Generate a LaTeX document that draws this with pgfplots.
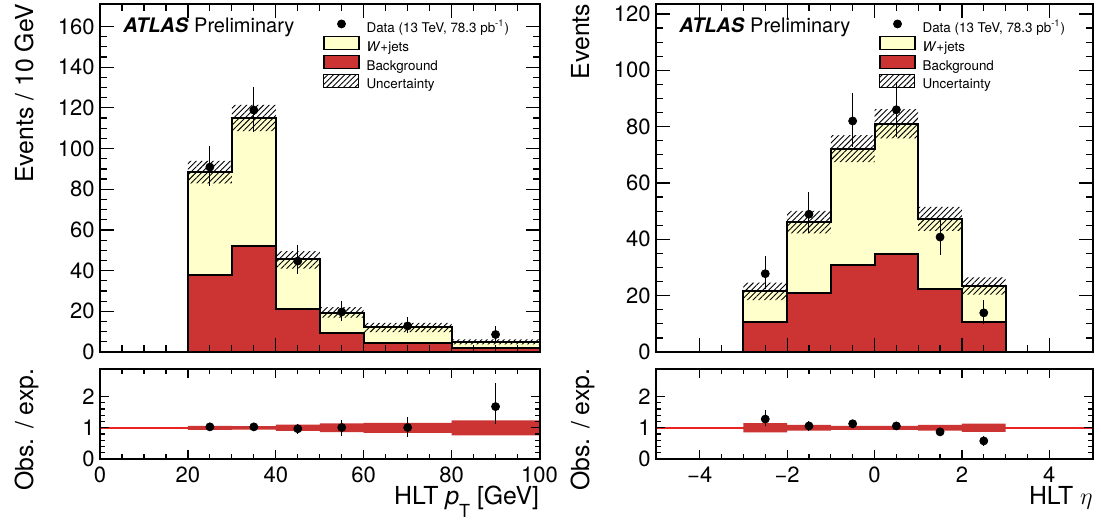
\documentclass[border=0pt]{standalone}
\usepackage{fontspec}
\setmainfont{TeX Gyre Heros}
\usepackage{pgfplots}
\usepackage{pgfplotstable}
\pgfplotsset{compat=1.18}
\usepgfplotslibrary{fillbetween}
\usetikzlibrary{patterns.meta}
\tikzset{fill between/on layer=main}

\definecolor{wjets}{RGB}{255,255,204}
\definecolor{bkg}{RGB}{204,51,51}
\definecolor{ratline}{RGB}{235,35,35}

\newcommand\tickfont{\fontsize{11}{13}\selectfont}
\newcommand\labfont{\fontsize{12.4}{14}\selectfont}
\newcommand\legfont{\fontsize{6.7}{8}\selectfont}
\newcommand\atlasfont{\fontsize{10}{12}\selectfont}

% ---------- left: HLT pT ----------
\pgfplotstableread{
x tot bkg
20 88.5 37.7
30 115.2 52.1
40 45.5 21.0
50 19.3 9.3
60 12.3 4.4
80 5.0 2.1
100 5.0 2.1
}\histL
\pgfplotstableread{
x lo hi rlo rhi
20 82.9 94.0 0.935 1.065
30 108.6 121.5 0.945 1.055
40 41.0 49.6 0.90 1.10
50 16.9 22.1 0.86 1.14
60 9.8 14.3 0.84 1.16
80 3.7 6.2 0.76 1.24
100 3.7 6.2 0.76 1.24
}\bandL
\pgfplotstableread{
x y ep em r rep rem
25 90.9 10.3 9.5 1.03 0.11 0.10
35 118.9 11.6 10.8 1.03 0.10 0.09
45 44.7 7.7 6.5 0.97 0.15 0.16
55 19.7 5.2 4.5 1.01 0.24 0.26
70 12.8 4.4 3.5 1.01 0.35 0.29
90 8.6 4.2 3.3 1.68 0.76 0.56
}\dataL

% ---------- right: HLT eta ----------
\pgfplotstableread{
x tot bkg
-3 21.6 10.7
-2 46.2 21.1
-1 72.2 30.8
0 81.0 34.7
1 47.3 22.4
2 23.5 10.5
3 23.5 10.5
}\histR
\pgfplotstableread{
x lo hi rlo rhi
-3 18.4 24.6 0.85 1.15
-2 42.1 50.1 0.91 1.09
-1 67.4 77.0 0.935 1.065
0 75.8 86.2 0.935 1.065
1 43.0 51.5 0.91 1.09
2 20.4 26.5 0.87 1.13
3 20.4 26.5 0.87 1.13
}\bandR
\pgfplotstableread{
x y ep em r rep rem
-2.5 27.8 6.2 5.6 1.28 0.30 0.23
-1.5 48.9 8.0 6.8 1.06 0.17 0.17
-0.5 82.0 10.1 9.1 1.13 0.13 0.13
0.5 86.0 10.0 9.6 1.06 0.12 0.12
1.5 40.8 6.4 6.4 0.87 0.13 0.13
2.5 13.9 4.7 3.8 0.58 0.17 0.15
}\dataR

\pgfplotsset{
  base/.style={scale only axis, axis on top, tick align=inside,
    axis line style={line width=1pt},
    tick style={line width=0.6pt, black},
    /pgf/number format/assume math mode=true,
    ticklabel style={font=\tickfont},
    yticklabel style={inner sep=0pt, xshift=-2.5pt},
    xticklabel style={inner sep=0pt, yshift=-3.5pt},
    label style={font=\labfont},
    minor x tick num=3},
  toppanel/.style={base, height=174.25pt, ymin=0, minor y tick num=3,
    xticklabels={}, major tick length=7pt, minor tick length=3.5pt},
  ratpanel/.style={base, height=45.25pt, ymin=0, ymax=2.9, ytick={0,1,2},
    minor y tick num=4, major tick length=4.5pt, minor tick length=2.5pt},
  hatch/.style={pattern={Lines[angle=45,distance=2pt,line width=0.45pt]}, pattern color=black},
  boxlegend/.style={legend image code/.code={\draw[##1] (0pt,-0.85pt) rectangle (17.5pt,5.65pt);}},
  datalegend/.style={legend image code/.code={\path[draw=none, fill=none] (0pt,-0.85pt) rectangle (17.5pt,5.65pt);
      \draw[black, mark=*, mark size=2pt, only marks] plot coordinates {(8.85pt,2.4pt)};}},
  mylegend/.style={legend style={at={(#1,0.96)}, anchor=north west, draw=none, fill=none,
      inner sep=0pt, outer sep=0pt, font=\legfont, row sep=0.3pt, column sep=3.5pt,
      nodes={inner sep=0pt, text height=4.9pt, text depth=1.4pt}}, legend cell align=left},
  datapts/.style={only marks, mark=*, mark size=2pt, black,
      error bars/y dir=both, error bars/y explicit, error bars/error mark=none,
      error bars/error bar style={line width=0.5pt, black}},
}

\begin{document}
\begin{tikzpicture}
% ================= LEFT TOP =================
\begin{axis}[toppanel, at={(50pt,87.5pt)}, anchor=south west, width=219.75pt,
  xmin=0, xmax=100, ymax=171.3, xtick={0,20,...,100}, ytick={0,20,...,160},
  ylabel={Events / 10 GeV},
  ylabel style={at={(axis description cs:-0.1524,1)}, anchor=base east, inner sep=0pt},
  mylegend=0.5074]
\addplot[const plot, fill=wjets, draw=black, line width=1pt, forget plot] table[x=x,y=tot]{\histL} \closedcycle;
\addplot[const plot, fill=bkg, draw=black, line width=1pt, forget plot] table[x=x,y=bkg]{\histL} \closedcycle;
\addplot[const plot, draw=none, name path=uL, forget plot] table[x=x,y=hi]{\bandL};
\addplot[const plot, draw=none, name path=lL, forget plot] table[x=x,y=lo]{\bandL};
\addplot[hatch, draw=none, forget plot] fill between[of=uL and lL];
\addplot[forget plot, datapts] table[x=x, y=y, y error plus=ep, y error minus=em]{\dataL};
\addlegendimage{datalegend}
\addlegendentry{Data (13 TeV, 78.3 pb\textsuperscript{-1})}
\addlegendimage{boxlegend, fill=wjets, draw=black, line width=0.8pt}
\addlegendentry{\textit{W}+jets}
\addlegendimage{boxlegend, fill=bkg, draw=black, line width=0.8pt}
\addlegendentry{Background}
\addlegendimage{boxlegend, hatch, draw=none}
\addlegendentry{Uncertainty}
\node[anchor=base west, font=\atlasfont, inner sep=0pt] at (rel axis cs:0.0523,0.9174) {\textbf{\textit{ATLAS}} Preliminary};
\end{axis}

% ================= LEFT RATIO =================
\begin{axis}[ratpanel, at={(50pt,34pt)}, anchor=south west, width=219.75pt,
  xmin=0, xmax=100, xtick={0,20,...,100},
  ylabel={Obs. / exp.},
  ylabel style={at={(axis description cs:-0.1524,1)}, anchor=base east, inner sep=0pt},
  xlabel={HLT \textit{p}\raisebox{-6.5pt}{\fontsize{9}{9}\selectfont T} [GeV]},
  xlabel style={at={(axis description cs:1,0)}, anchor=base east, inner sep=0pt, yshift=-22.5pt}]
\addplot[ratline, line width=0.8pt] coordinates {(0,1) (100,1)};
\addplot[const plot, draw=none, name path=ruL] table[x=x,y=rhi]{\bandL};
\addplot[const plot, draw=none, name path=rlL] table[x=x,y=rlo]{\bandL};
\addplot[fill=bkg, draw=none] fill between[of=ruL and rlL];
\addplot[datapts] table[x=x, y=r, y error plus=rep, y error minus=rem]{\dataL};
\end{axis}

% ================= RIGHT TOP =================
\begin{axis}[toppanel, at={(328pt,87.5pt)}, anchor=south west, width=218.5pt,
  xmin=-5, xmax=5, ymax=123.7, xtick={-4,-2,0,2,4}, ytick={0,20,...,120},
  ylabel={Events},
  ylabel style={at={(axis description cs:-0.1533,1)}, anchor=base east, inner sep=0pt},
  mylegend=0.5103]
\addplot[const plot, fill=wjets, draw=black, line width=1pt, forget plot] table[x=x,y=tot]{\histR} \closedcycle;
\addplot[const plot, fill=bkg, draw=black, line width=1pt, forget plot] table[x=x,y=bkg]{\histR} \closedcycle;
\addplot[const plot, draw=none, name path=uR, forget plot] table[x=x,y=hi]{\bandR};
\addplot[const plot, draw=none, name path=lR, forget plot] table[x=x,y=lo]{\bandR};
\addplot[hatch, draw=none, forget plot] fill between[of=uR and lR];
\addplot[forget plot, datapts] table[x=x, y=y, y error plus=ep, y error minus=em]{\dataR};
\addlegendimage{datalegend}
\addlegendentry{Data (13 TeV, 78.3 pb\textsuperscript{-1})}
\addlegendimage{boxlegend, fill=wjets, draw=black, line width=0.8pt}
\addlegendentry{\textit{W}+jets}
\addlegendimage{boxlegend, fill=bkg, draw=black, line width=0.8pt}
\addlegendentry{Background}
\addlegendimage{boxlegend, hatch, draw=none}
\addlegendentry{Uncertainty}
\node[anchor=base west, font=\atlasfont, inner sep=0pt] at (rel axis cs:0.0526,0.9174) {\textbf{\textit{ATLAS}} Preliminary};
\end{axis}

% ================= RIGHT RATIO =================
\begin{axis}[ratpanel, at={(328pt,34pt)}, anchor=south west, width=218.5pt,
  xmin=-5, xmax=5, xtick={-4,-2,0,2,4}, xticklabels={−4,−2,0,2,4},
  ylabel={Obs. / exp.},
  ylabel style={at={(axis description cs:-0.1533,1)}, anchor=base east, inner sep=0pt},
  xlabel={HLT $\eta$},
  xlabel style={at={(axis description cs:1,0)}, anchor=base east, inner sep=0pt, yshift=-22.5pt}]
\addplot[ratline, line width=0.8pt] coordinates {(-5,1) (5,1)};
\addplot[const plot, draw=none, name path=ruR] table[x=x,y=rhi]{\bandR};
\addplot[const plot, draw=none, name path=rlR] table[x=x,y=rlo]{\bandR};
\addplot[fill=bkg, draw=none] fill between[of=ruR and rlR];
\addplot[datapts] table[x=x, y=r, y error plus=rep, y error minus=rem]{\dataR};
\end{axis}

\pgfresetboundingbox
\path[use as bounding box] (0,0) rectangle (550.5pt,263.5pt);
\end{tikzpicture}
\end{document}
